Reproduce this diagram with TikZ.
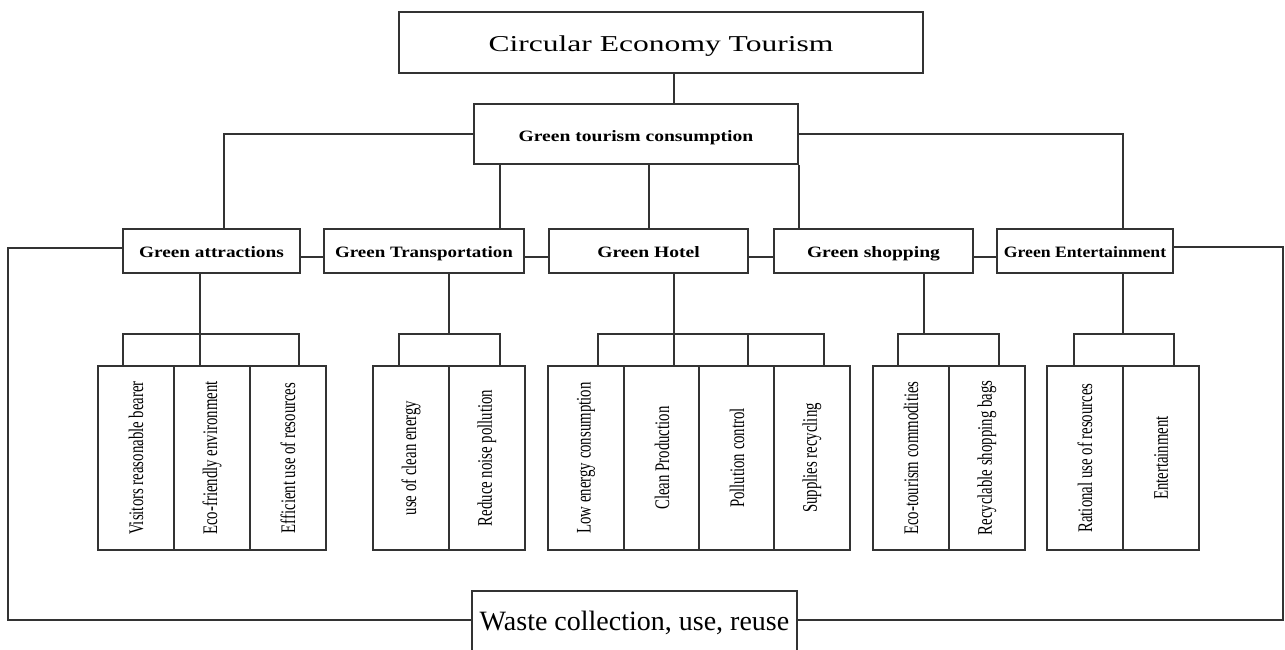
\documentclass[tikz,border=0pt]{standalone}
\usepackage{fontspec}
\setmainfont{Liberation Serif}
\usepackage{graphicx}
% horizontally stretched text and rotated (bottom-to-top) leaf text
\newcommand{\hstretch}[2]{\scalebox{#1}[1]{#2}}
\newcommand{\leaftext}[1]{\rotatebox{90}{\scalebox{1}[1.4]{#1}}}
\begin{document}
\begin{tikzpicture}[x=1pt,y=-1pt,
  conn/.style={line width=2pt, draw=black!80},
  frame/.style={draw=black!80, line width=2pt, rectangle, inner sep=0pt, fill=white},
  titlebox/.style={frame, minimum width=524, minimum height=61, text height=19pt, text depth=0pt,
    font=\fontsize{22.7}{26}\selectfont},
  hubbox/.style={frame, minimum width=324, minimum height=60, text height=16pt, text depth=0pt,
    font=\bfseries\fontsize{15.8}{18}\selectfont},
  branchbox/.style={frame, minimum height=44, text height=12pt, text depth=0pt,
    font=\bfseries\fontsize{15.8}{18}\selectfont},
  leafbox/.style={frame, minimum width=76, minimum height=184,
    font=\fontsize{14.8}{17}\selectfont},
  sinkbox/.style={frame, minimum width=325, minimum height=99, text height=0pt, text depth=21pt,
    font=\fontsize{28}{32}\selectfont},
]
\path[use as bounding box, fill=white] (0,0) rectangle (1285,650);
\clip (0,0) rectangle (1285,650);

% top of the hierarchy
\node[titlebox] (ttl) at (661,42.5) {\hstretch{1.39}{Circular Economy Tourism}};
\node[hubbox] (gtc) at (636,134) {\hstretch{1.24}{Green tourism consumption}};

% second level
\node[branchbox, minimum width=177] (ga) at (211.5,251) {\hstretch{1.22}{Green attractions}};
\node[branchbox, minimum width=200] (gt) at (424,251) {\hstretch{1.20}{Green Transportation}};
\node[branchbox, minimum width=199] (gh) at (648.5,251) {\hstretch{1.24}{Green Hotel}};
\node[branchbox, minimum width=199] (gs) at (873.5,251) {\hstretch{1.24}{Green shopping}};
\node[branchbox, minimum width=176] (ge) at (1085,251) {\hstretch{1.12}{Green Entertainment}};

% leaves
\node[leafbox] (a1) at (136,458) {\leaftext{Visitors reasonable bearer}};
\node[leafbox] (a2) at (212,458) {\leaftext{Eco-friendly environment}};
\node[leafbox] (a3) at (288,458) {\leaftext{Efficient use of resources}};

\node[leafbox] (t1) at (411,458) {\leaftext{use of clean energy}};
\node[leafbox] (t2) at (487,458) {\leaftext{Reduce noise pollution}};

\node[leafbox] (h1) at (586,458) {\leaftext{Low energy consumption}};
\node[leafbox] (h2) at (662,458) {\leaftext{Clean Production}};
\node[leafbox] (h3) at (737,458) {\leaftext{Pollution control}};
\node[leafbox] (h4) at (812,458) {\leaftext{Supplies recycling}};

\node[leafbox] (s1) at (911,458) {\leaftext{Eco-tourism commodities}};
\node[leafbox] (s2) at (987,458) {\leaftext{Recyclable shopping bags}};

\node[leafbox] (e1) at (1085,458) {\leaftext{Rational use of resources}};
\node[leafbox] (e2) at (1161,458) {\leaftext{Entertainment}};

% recycling box at the bottom
\node[sinkbox] (wst) at (634.5,640.5) {Waste collection, use, reuse};

% helper coordinates for connector positions
\coordinate (x0) at (674,0);
\coordinate (xA) at (224,0);
\coordinate (xT) at (500,0);
\coordinate (xH) at (649,0);
\coordinate (xE) at (1123,0);
\coordinate (yR) at (0,257);
\coordinate (lpL) at (8,248);
\coordinate (lpR) at (1283,247);
\coordinate (yB) at (0,620);

% title to hub
\draw[conn] (x0 |- ttl.south) -- (x0 |- gtc.north);

% hub to second level
\draw[conn] (gtc.west) -| (xA |- ga.north);
\draw[conn] (gtc.east) -| (xE |- ge.north);
\draw[conn] (xT |- gtc.south) -- (xT |- gt.north);
\draw[conn] (xH |- gtc.south) -- (xH |- gh.north);
\draw[conn] (gtc.south east) -- (gtc.south east |- gs.north);

% links along the second level
\draw[conn] (ga.east |- yR) -- (gt.west |- yR);
\draw[conn] (gt.east |- yR) -- (gh.west |- yR);
\draw[conn] (gh.east |- yR) -- (gs.west |- yR);
\draw[conn] (gs.east |- yR) -- (ge.west |- yR);

% recycling loop
\draw[conn] (ga.west |- lpL) -- (lpL) -- (lpL |- yB) -- (wst.west |- yB);
\draw[conn] (ge.east |- lpR) -- (lpR) -- (lpR |- yB) -- (wst.east |- yB);

% green attractions group
\coordinate (a-l) at (123,334);
\coordinate (a-m) at (200,334);
\coordinate (a-r) at (299,334);
\draw[conn] (a-l |- a1.north) -- (a-l) -- (a-r) -- (a-r |- a3.north);
\draw[conn] (a-m |- ga.south) -- (a-m |- a2.north);

% green transportation group
\coordinate (t-l) at (399,334);
\coordinate (t-m) at (449,334);
\coordinate (t-r) at (500,334);
\draw[conn] (t-l |- t1.north) -- (t-l) -- (t-r) -- (t-r |- t2.north);
\draw[conn] (t-m |- gt.south) -- (t-m);

% green hotel group
\coordinate (h-1) at (598,334);
\coordinate (h-2) at (674,334);
\coordinate (h-3) at (748,334);
\coordinate (h-4) at (824,334);
\draw[conn] (h-1 |- h1.north) -- (h-1) -- (h-4) -- (h-4 |- h4.north);
\draw[conn] (h-2 |- gh.south) -- (h-2 |- h2.north);
\draw[conn] (h-3) -- (h-3 |- h3.north);

% green shopping group
\coordinate (s-l) at (898,334);
\coordinate (s-m) at (924,334);
\coordinate (s-r) at (999,334);
\draw[conn] (s-l |- s1.north) -- (s-l) -- (s-r) -- (s-r |- s2.north);
\draw[conn] (s-m |- gs.south) -- (s-m);

% green entertainment group
\coordinate (e-l) at (1074,334);
\coordinate (e-m) at (1123,334);
\coordinate (e-r) at (1174,334);
\draw[conn] (e-l |- e1.north) -- (e-l) -- (e-r) -- (e-r |- e2.north);
\draw[conn] (e-m |- ge.south) -- (e-m);
\end{tikzpicture}
\end{document}
